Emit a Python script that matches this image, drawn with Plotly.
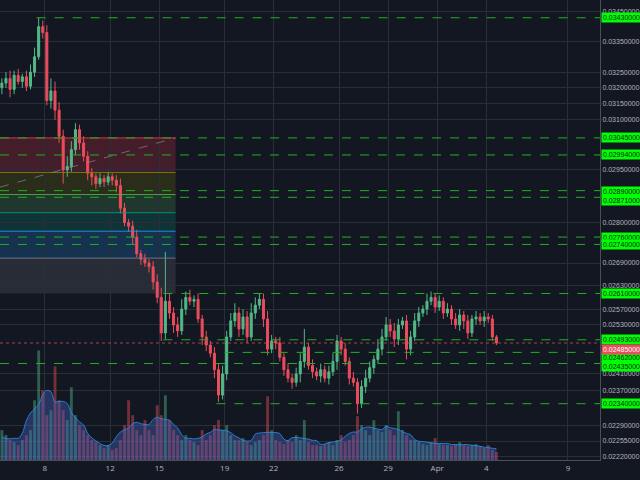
import plotly.graph_objects as go
import pandas as pd
import math

start = pd.Timestamp("2018-03-05 09:00")
closes = [3215,3230,3195,3240,3220,3235,3205,3250,3300,3400,3380,3160,3190,3130,3050,2950,2960,3010,3070,3030,
          2990,2940,2930,2910,2925,2915,2930,2920,2905,2840,2800,2790,2760,2715,2700,2690,2680,2640,2600,2510,
          2590,2560,2530,2515,2570,2600,2590,2595,2545,2500,2480,2460,2420,2360,2410,2500,2540,2560,2520,2550,
          2500,2560,2580,2595,2545,2470,2490,2485,2450,2420,2400,2390,2410,2440,2475,2430,2415,2405,2420,2400,
          2415,2440,2490,2470,2440,2400,2390,2340,2380,2400,2425,2445,2470,2500,2530,2515,2495,2530,2540,2470,
          2500,2540,2560,2570,2590,2600,2575,2590,2560,2570,2545,2530,2555,2540,2510,2545,2550,2540,2550,2545,
          2500,2485]
upper_wick = [15,20,25,15,20,10,20,25,30,30,20,25,40,30,25,20,30,25,20,15,
              20,15,15,10,15,10,15,10,15,20,15,10,15,20,10,15,10,15,20,25,
              130,20,15,20,25,15,20,10,15,10,15,10,15,15,20,15,20,25,15,20,
              15,25,20,15,15,20,15,10,15,10,15,10,15,20,45,10,15,10,15,10,
              15,20,15,10,15,10,15,10,15,20,15,10,25,20,20,15,20,15,10,15,
              15,20,15,10,20,15,10,15,10,15,10,15,15,10,15,10,15,10,15,10,
              10,5]
lower_wick = [20,15,25,15,10,20,15,10,15,10,20,15,25,30,20,40,20,15,15,20,
              15,20,25,15,10,15,10,15,20,15,10,15,20,10,15,10,15,20,15,20,
              15,15,20,15,10,15,10,15,10,20,15,10,20,16,10,15,10,15,20,15,
              15,10,15,10,20,15,10,15,10,15,10,15,10,20,15,10,15,10,15,10,
              15,10,20,15,10,15,10,23,10,15,10,15,10,15,10,15,20,15,10,25,
              15,10,15,10,15,10,15,10,15,10,15,10,15,20,15,10,15,10,15,10,
              10,5]
volumes = [30,25,20,18,15,20,25,30,60,110,70,45,50,94,60,50,40,73,45,35,
           30,25,20,18,15,12,15,10,12,20,35,60,45,30,25,40,30,25,55,45,
           65,40,30,25,20,25,20,18,15,30,20,25,35,40,30,35,25,20,20,22,
           18,15,18,20,25,64,30,20,18,16,20,18,25,20,40,18,15,15,14,16,
           18,15,20,25,18,20,25,44,35,30,25,40,30,28,35,30,25,49,30,25,
           20,20,18,16,15,18,22,16,15,15,14,16,18,15,14,15,16,14,12,15,
           10,8]

fib_top, fib_bottom = 0.03045, 0.02610
fib_ratios = [0, 0.236, 0.382, 0.5, 0.618, 0.786, 1]
fib_colors = ["242,54,69", "128,128,0", "76,175,80", "8,153,129", "33,150,243", "120,123,134"]
levels = [0.0343, 0.03045, 0.02994, 0.0289, 0.02871, 0.0276, 0.0274, 0.0261, 0.02493, 0.02462, 0.02435, 0.0234]
level_start = ["2018-03-07 12:00", None, None, None, None, None, None, "2018-03-15 06:00", "2018-03-15 06:00",
               "2018-03-19 00:00", None, "2018-03-18 12:00"]
label_shift = {0.0289: -1, 0.02871: -3, 0.02493: 0, 0.02462: -5, 0.02435: -3}
last_price = 0.02485
ytick_vals = [0.0345, 0.0335, 0.0325, 0.0320, 0.0315, 0.0310, 0.0295, 0.0280, 0.0269, 0.0263, 0.0257,
              0.0253, 0.0241, 0.0237, 0.0229, 0.02255, 0.0222]
xtick_vals = ["2018-03-08", "2018-03-12", "2018-03-15", "2018-03-19", "2018-03-22", "2018-03-26",
              "2018-03-29", "2018-04-01", "2018-04-04", "2018-04-09"]
xtick_text = ["8", "12", "15", "19", "22", "26", "29", "Apr", "4", "9"]

n = len(closes)
dates = [start + pd.Timedelta(hours=6 * i) for i in range(n)]
c = [v / 1e5 for v in closes]
o = [0.03200] + c[:-1]
h = [max(o[i], c[i]) + upper_wick[i] / 1e5 for i in range(n)]
l = [min(o[i], c[i]) - lower_wick[i] / 1e5 for i in range(n)]
ma = pd.Series(volumes).rolling(7, min_periods=1, center=True).mean()

x0, x1 = pd.Timestamp("2018-03-05 06:15"), pd.Timestamp("2018-04-10 23:00")
BG = "#131722"
fig = go.Figure()

vcol = ["rgba(83,185,135,0.45)" if c[i] >= o[i] else "rgba(235,77,92,0.45)" for i in range(n)]
fig.add_trace(go.Bar(x=dates, y=volumes, marker_color=vcol, marker_line_width=0, yaxis="y2"))
fig.add_trace(go.Scatter(x=dates, y=ma, mode="lines", line=dict(color="rgba(33,150,243,0.8)", width=1, shape="spline"),
                         fill="tozeroy", fillcolor="rgba(70,100,190,0.4)", yaxis="y2"))
fig.add_trace(go.Candlestick(x=dates, open=o, high=h, low=l, close=c, whiskerwidth=0,
                             increasing=dict(line=dict(color="#53b987", width=1), fillcolor="#53b987"),
                             decreasing=dict(line=dict(color="#eb4d5c", width=1), fillcolor="#eb4d5c")))

fib_end = pd.Timestamp("2018-03-16 00:00")
fib_prices = [fib_top - r * (fib_top - fib_bottom) for r in fib_ratios]
shapes = []
for k in range(6):
    shapes.append(dict(type="rect", xref="x", yref="y", x0=x0, x1=fib_end, y0=fib_prices[k + 1], y1=fib_prices[k],
                       fillcolor=f"rgba({fib_colors[k]},0.22)", line_width=0, layer="below"))
    shapes.append(dict(type="line", xref="x", yref="y", x0=x0, x1=fib_end, y0=fib_prices[k], y1=fib_prices[k],
                       line=dict(color=f"rgba({fib_colors[k]},0.9)", width=1)))
shapes.append(dict(type="line", xref="x", yref="y", x0=x0, x1=fib_end, y0=0.02900, y1=fib_top,
                   line=dict(color="rgba(150,150,150,0.6)", width=1, dash="dash")))
for lv, st in zip(levels, level_start):
    shapes.append(dict(type="line", xref="x", yref="y", x0=st if st else x0, x1=x1, y0=lv, y1=lv,
                       line=dict(color="#22b022", width=1, dash="dash")))
shapes.append(dict(type="line", xref="paper", yref="y", x0=0, x1=1, y0=last_price, y1=last_price,
                   line=dict(color="rgba(235,77,92,0.7)", width=1, dash="dot")))

ann = []
for lv in levels:
    ann.append(dict(x=1, xref="paper", y=math.log10(lv), yref="y", xanchor="left", text=f"{lv:.8f}", showarrow=False,
                    bgcolor="#00ff00", font=dict(size=7, color="#131722", family="Arial"), borderpad=1, xshift=1,
                    yshift=label_shift.get(lv, 0)))
ann.append(dict(x=1, xref="paper", y=math.log10(last_price), yref="y", xanchor="left", text=f"{last_price:.8f}",
                showarrow=False, bgcolor="#eb4d5c", font=dict(size=7, color="#ffffff", family="Arial"),
                borderpad=1, xshift=1, yshift=-6))

fig.update_layout(
    width=640, height=480, margin=dict(l=0, r=40, t=0, b=20),
    paper_bgcolor=BG, plot_bgcolor=BG, showlegend=False, bargap=0.3,
    shapes=shapes, annotations=ann,
    xaxis=dict(range=[x0, x1], rangeslider=dict(visible=False), tickvals=xtick_vals, ticktext=xtick_text,
               gridcolor="#2a2e39", showline=True, linecolor="#4a4e59", tickfont=dict(size=8, color="#b2b5be"),
               ticks="", zeroline=False, automargin=False),
    yaxis=dict(type="log", range=[-1.65502, -1.45706], side="right", tickvals=ytick_vals,
               ticktext=[f"{v:.8f}" for v in ytick_vals], gridcolor="#2a2e39", showline=True, linecolor="#4a4e59",
               tickfont=dict(size=7, color="#b2b5be", family="Arial"), ticks="", zeroline=False, automargin=False),
    yaxis2=dict(overlaying="y", range=[0, 462], visible=False, fixedrange=True),
)
fig.write_html("out.html", config={"displayModeBar": False},
               post_script="document.body.style.margin='0';document.body.style.background='#131722';")
